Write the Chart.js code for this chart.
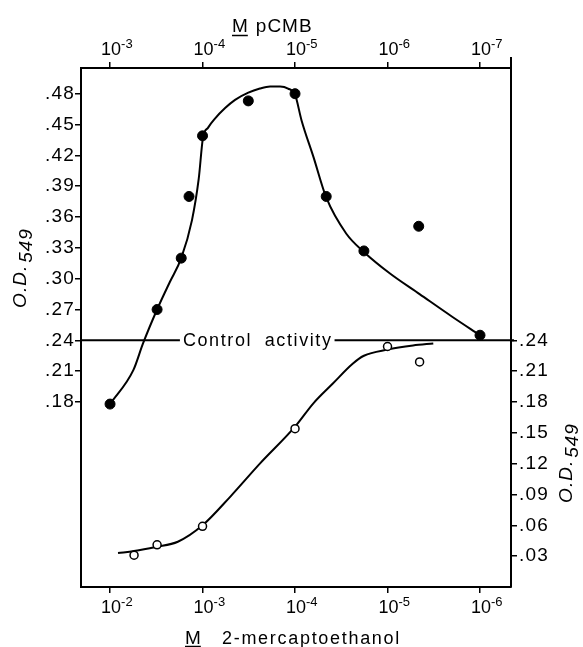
<!DOCTYPE html>
<html>
<head>
<meta charset="utf-8">
<script src="https://cdn.jsdelivr.net/npm/chart.js@4.4.0/dist/chart.umd.min.js"></script>
<style>
  html, body { margin: 0; padding: 0; background: #fff; }
  #wrap { width: 583px; height: 647px; }
</style>
</head>
<body>
<div id="wrap"><canvas id="chart"></canvas></div>
<script>
// pCMB (top axis) - filled dots
const pcmbConc = [1e-3, 3.1e-4, 1.7e-4, 1.4e-4, 1e-4, 3.2e-5, 1e-5, 4.6e-6, 1.8e-6, 4.6e-7, 1e-7];
const pcmbOD   = [0.178, 0.270, 0.320, 0.380, 0.439, 0.473, 0.480, 0.380, 0.327, 0.351, 0.245];

// hand drawn curve through the pCMB dots
const pcmbCurveConc = [1e-3, 5.6e-4, 4.4e-4, 3.1e-4, 2.25e-4, 1.7e-4, 1.3e-4, 1.1e-4, 9.9e-5, 8.7e-5, 7.3e-5, 5.7e-5,
                       4.45e-5, 3.2e-5, 2.4e-5, 1.86e-5, 1.45e-5, 1.19e-5, 1.0e-5, 8.5e-6, 6.3e-6, 4.6e-6,
                       2.8e-6, 1.8e-6, 9.4e-7, 4.5e-7, 2.0e-7, 1e-7];
const pcmbCurveOD   = [0.178, 0.211, 0.237, 0.270, 0.297, 0.320, 0.357, 0.397, 0.437, 0.447, 0.456, 0.466,
                       0.474, 0.481, 0.485, 0.487, 0.487, 0.485, 0.479, 0.454, 0.418, 0.379,
                       0.344, 0.326, 0.305, 0.285, 0.263, 0.245];

// 2-mercaptoethanol (bottom axis) - open circles
const meConc = [5.5e-3, 3.1e-3, 1e-3, 1e-4, 1e-5, 4.5e-6];
const meOD   = [0.031, 0.041, 0.059, 0.154, 0.234, 0.219];

const meCurveConc = [8.2e-3, 5.5e-3, 3.2e-3, 1.85e-3, 1e-3, 5e-4, 2.4e-4, 1e-4, 6.3e-5, 3.9e-5, 2.4e-5, 1.8e-5, 1.0e-5, 5.3e-6, 3.2e-6];
const meCurveOD   = [0.033, 0.035, 0.039, 0.044, 0.060, 0.088, 0.120, 0.156, 0.179, 0.198, 0.217, 0.225, 0.231, 0.235, 0.237];

const controlOD = 0.24;

// tick labels
const topTicks    = [1e-3, 1e-4, 1e-5, 1e-6, 1e-7];
const bottomTicks = [1e-2, 1e-3, 1e-4, 1e-5, 1e-6];
const leftTicks   = [0.18, 0.21, 0.24, 0.27, 0.30, 0.33, 0.36, 0.39, 0.42, 0.45, 0.48];
const rightTicks  = [0.03, 0.06, 0.09, 0.12, 0.15, 0.18, 0.21, 0.24];

const FONT = '"Liberation Sans", Arial, sans-serif';

function odLabel(v) {
    return v.toFixed(2).replace(/^0/, '');
}

function pts(xs, ys) {
    return xs.map((x, i) => ({ x: x, y: ys[i] }));
}

function xAxis(position, ticks, lo, hi, height) {
    return {
        type: 'logarithmic',
        axis: 'x',
        position: position,
        reverse: true,
        min: Math.pow(10, lo),
        max: Math.pow(10, hi),
        afterBuildTicks: s => { s.ticks = ticks.map(v => ({ value: v })); },
        afterFit: s => { s.height = height; },
        // labels are drawn by the decor plugin (10 with a raised exponent)
        ticks: { display: false, autoSkip: false },
        grid: { drawOnChartArea: false, tickLength: 6, color: '#000', lineWidth: 1.5 },
        border: { color: '#000', width: 2 }
    };
}

function yAxis(position, ticks, width, pad) {
    return {
        type: 'linear',
        axis: 'y',
        position: position,
        min: 0,
        max: 0.505,
        afterBuildTicks: s => { s.ticks = ticks.map(v => ({ value: v })); },
        afterFit: s => { s.width = width; },
        ticks: {
            callback: v => odLabel(v),
            color: '#000',
            font: { family: FONT, size: 19 },
            autoSkip: false,
            padding: pad
        },
        grid: { drawOnChartArea: false, tickLength: 6, color: '#000', lineWidth: 1.5 },
        border: { color: '#000', width: 2 }
    };
}

function drawOD(ctx, cx, cy) {
    ctx.save();
    ctx.translate(cx, cy);
    ctx.rotate(-Math.PI / 2);
    ctx.font = 'italic 19px ' + FONT;
    ctx.letterSpacing = '1px';
    ctx.fillStyle = '#000';
    ctx.textBaseline = 'middle';
    ctx.textAlign = 'left';
    const w1 = ctx.measureText('O.D.').width;
    const w2 = ctx.measureText('549').width;
    const start = -(w1 + 2 + w2) / 2;
    ctx.fillText('O.D.', start, 0);
    ctx.fillText('549', start + w1 + 2, 6);
    ctx.restore();
}

function drawPowerTicks(ctx, scale, values, baseY) {
    ctx.textAlign = 'left';
    ctx.textBaseline = 'alphabetic';
    values.forEach(v => {
        const px = scale.getPixelForValue(v);
        const exp = String(Math.round(Math.log10(v)));
        ctx.font = '18px ' + FONT;
        const w = ctx.measureText('10').width;
        ctx.fillText('10', px - w / 2 + 1, baseY);
        ctx.font = '13px ' + FONT;
        ctx.fillText(exp, px + w / 2 + 1, baseY - 7);
    });
}

// titles, control line, O.D. labels, x tick labels
const decor = {
    id: 'decor',
    beforeDraw(chart) {
        chart.ctx.letterSpacing = '1.2px';
    },
    afterDraw(chart) {
        const ctx = chart.ctx;
        const a = chart.chartArea;
        const yc = chart.scales.yLeft.getPixelForValue(controlOD);

        ctx.save();
        ctx.fillStyle = '#000';
        ctx.strokeStyle = '#000';

        // x tick labels
        ctx.letterSpacing = '0px';
        drawPowerTicks(ctx, chart.scales.xTop, topTicks, 55);
        drawPowerTicks(ctx, chart.scales.xBottom, bottomTicks, 613);

        // Control activity
        ctx.font = '18px ' + FONT;
        ctx.letterSpacing = '1.6px';
        ctx.wordSpacing = '6px';
        const label = 'Control activity';
        const tx = a.left + (a.right - a.left) * 0.237;
        const tw = ctx.measureText(label).width;
        ctx.textBaseline = 'middle';
        ctx.textAlign = 'left';
        ctx.fillText(label, tx, yc + 1);
        ctx.lineWidth = 2;
        ctx.beginPath();
        ctx.moveTo(a.left, yc);
        ctx.lineTo(tx - 3, yc);
        ctx.moveTo(tx + tw + 2, yc);
        ctx.lineTo(a.right + 3, yc);
        ctx.stroke();

        // right frame sticks up above the top axis
        ctx.beginPath();
        ctx.moveTo(a.right, a.top);
        ctx.lineTo(a.right, a.top - 11);
        ctx.stroke();

        // top title: M pCMB
        ctx.letterSpacing = '1px';
        ctx.wordSpacing = '0px';
        ctx.font = '19px ' + FONT;
        ctx.textBaseline = 'alphabetic';
        const mW = ctx.measureText('M').width;
        let mx = 232;
        ctx.fillText('M', mx, 32);
        ctx.fillText('pCMB', mx + mW + 7, 32);
        ctx.lineWidth = 1.5;
        ctx.beginPath();
        ctx.moveTo(mx, 35.5);
        ctx.lineTo(mx + mW - 1, 35.5);
        ctx.stroke();

        // bottom title: M 2-mercaptoethanol
        mx = 185;
        ctx.fillText('M', mx, 644);
        ctx.font = '18px ' + FONT;
        ctx.letterSpacing = '1.7px';
        ctx.fillText('2-mercaptoethanol', 222, 644);
        ctx.beginPath();
        ctx.moveTo(mx, 646.5);
        ctx.lineTo(mx + mW - 1, 646.5);
        ctx.stroke();
        ctx.restore();

        drawOD(ctx, 21, 268);
        drawOD(ctx, 567, 463);
    }
};

new Chart(document.getElementById('chart'), {
    type: 'scatter',
    data: {
        datasets: [
            {
                data: pts(pcmbConc, pcmbOD),
                xAxisID: 'xTop', yAxisID: 'yLeft',
                pointRadius: 5, pointBackgroundColor: '#000', pointBorderColor: '#000',
                showLine: false, order: 0
            },
            {
                data: pts(meConc, meOD),
                xAxisID: 'xBottom', yAxisID: 'yLeft',
                pointRadius: 4, pointBackgroundColor: '#fff', pointBorderColor: '#000',
                pointBorderWidth: 1.5, showLine: false, order: 0
            },
            {
                data: pts(pcmbCurveConc, pcmbCurveOD),
                xAxisID: 'xTop', yAxisID: 'yLeft',
                showLine: true, pointRadius: 0, borderColor: '#000', borderWidth: 2,
                cubicInterpolationMode: 'monotone', order: 1
            },
            {
                data: pts(meCurveConc, meCurveOD),
                xAxisID: 'xBottom', yAxisID: 'yLeft',
                showLine: true, pointRadius: 0, borderColor: '#000', borderWidth: 2,
                cubicInterpolationMode: 'monotone', order: 1
            }
        ]
    },
    options: {
        responsive: true,
        maintainAspectRatio: false,
        animation: false,
        layout: { padding: 0 },
        plugins: { legend: { display: false }, tooltip: { enabled: false } },
        scales: {
            xTop: xAxis('top', topTicks, -7.335, -2.686, 68),
            xBottom: xAxis('bottom', bottomTicks, -6.335, -1.686, 60),
            yLeft: yAxis('left', leftTicks, 81, 0),
            yRight: yAxis('right', rightTicks, 72, 2)
        }
    },
    plugins: [decor]
});
</script>
</body>
</html>
